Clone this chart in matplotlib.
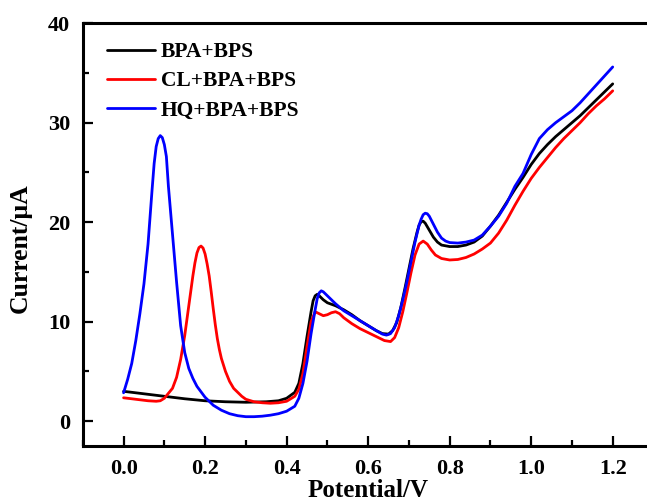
"""
Differential pulse voltammograms of BPA+BPS with and without CL / HQ
"""
import matplotlib
matplotlib.use('Agg')
import matplotlib.pyplot as plt
from matplotlib.ticker import MultipleLocator

# BPA+BPS
x_bpa = [0.00, 0.05, 0.10, 0.15, 0.20, 0.25, 0.30, 0.35, 0.38, 0.40, 0.42, 0.43,
         0.44, 0.45, 0.46, 0.465, 0.47, 0.475, 0.48, 0.49, 0.50, 0.52, 0.54, 0.56,
         0.58, 0.60, 0.62, 0.635, 0.65, 0.66, 0.67, 0.68, 0.69, 0.70, 0.71, 0.72,
         0.725, 0.73, 0.735, 0.74, 0.75, 0.76, 0.77, 0.78, 0.80, 0.82, 0.84, 0.86,
         0.88, 0.90, 0.92, 0.94, 0.96, 0.98, 1.00, 1.02, 1.04, 1.06, 1.08, 1.10,
         1.12, 1.14, 1.16, 1.18, 1.20]
y_bpa = [3.0, 2.75, 2.5, 2.25, 2.05, 1.95, 1.9, 1.95, 2.05, 2.3, 2.9, 3.8,
         5.8, 8.5, 11.0, 12.1, 12.6, 12.75, 12.6, 12.2, 11.9, 11.6, 11.2, 10.7,
         10.1, 9.6, 9.1, 8.8, 8.75, 9.1, 9.9, 11.4, 13.3, 15.3, 17.3, 19.0,
         19.7, 20.05, 20.1, 19.9, 19.2, 18.5, 18.0, 17.7, 17.55, 17.55, 17.7, 18.0,
         18.6, 19.6, 20.7, 22.0, 23.3, 24.5, 25.8, 26.9, 27.8, 28.6, 29.3, 30.0,
         30.7, 31.5, 32.3, 33.1, 33.9]

# CL+BPA+BPS
x_cl = [0.00, 0.02, 0.04, 0.06, 0.08, 0.09, 0.10, 0.11, 0.12, 0.13, 0.14, 0.15,
        0.16, 0.17, 0.175, 0.18, 0.185, 0.19, 0.195, 0.20, 0.205, 0.21, 0.215,
        0.22, 0.225, 0.23, 0.235, 0.24, 0.25, 0.26, 0.27, 0.28, 0.29, 0.30, 0.32,
        0.34, 0.36, 0.38, 0.40, 0.42, 0.43, 0.44, 0.45, 0.46, 0.47, 0.48, 0.49,
        0.50, 0.51, 0.52, 0.53, 0.54, 0.56, 0.58, 0.60, 0.62, 0.64, 0.655, 0.665,
        0.675, 0.685, 0.695, 0.705, 0.715, 0.725, 0.735, 0.745, 0.755, 0.765,
        0.78, 0.80, 0.82, 0.84, 0.86, 0.88, 0.90, 0.92, 0.94, 0.96, 0.98, 1.00,
        1.02, 1.04, 1.06, 1.08, 1.10, 1.12, 1.14, 1.16, 1.18, 1.20]
y_cl = [2.35, 2.25, 2.15, 2.05, 2.0, 2.05, 2.3, 2.8, 3.3, 4.4, 6.2, 8.6,
        11.6, 14.6, 15.9, 16.9, 17.45, 17.6, 17.4, 16.8, 15.8, 14.6, 13.0,
        11.3, 9.7, 8.3, 7.2, 6.3, 5.0, 4.0, 3.3, 2.9, 2.5, 2.2, 1.95,
        1.85, 1.8, 1.85, 2.0, 2.5, 3.2, 4.8, 7.5, 10.0, 11.0, 10.8, 10.6,
        10.7, 10.9, 11.0, 10.8, 10.4, 9.8, 9.3, 8.9, 8.5, 8.1, 8.0, 8.4,
        9.4, 11.0, 12.9, 14.9, 16.7, 17.8, 18.1, 17.8, 17.2, 16.7,
        16.35, 16.2, 16.25, 16.45, 16.8, 17.3, 17.9, 18.9, 20.2, 21.7, 23.1, 24.4,
        25.5, 26.5, 27.5, 28.4, 29.2, 30.0, 30.9, 31.7, 32.4, 33.2]

# HQ+BPA+BPS
x_hq = [0.00, 0.01, 0.02, 0.03, 0.04, 0.05, 0.06, 0.07, 0.075, 0.08, 0.085, 0.09,
        0.095, 0.10, 0.105, 0.11, 0.12, 0.13, 0.14, 0.15, 0.16, 0.17, 0.18, 0.20,
        0.22, 0.24, 0.26, 0.28, 0.30, 0.32, 0.34, 0.36, 0.38, 0.40, 0.42, 0.43,
        0.44, 0.45, 0.46, 0.47, 0.475, 0.48, 0.485, 0.49, 0.50, 0.52, 0.54, 0.56,
        0.58, 0.60, 0.62, 0.635, 0.645, 0.655, 0.665, 0.675, 0.685, 0.695, 0.705,
        0.715, 0.725, 0.73, 0.735, 0.74, 0.745, 0.75, 0.76, 0.77, 0.78, 0.79, 0.80,
        0.82, 0.84, 0.86, 0.88, 0.90, 0.92, 0.94, 0.96, 0.98, 1.00, 1.02, 1.04,
        1.06, 1.08, 1.10, 1.12, 1.14, 1.16, 1.18, 1.20]
y_hq = [2.85, 4.2, 5.8, 8.1, 10.8, 13.8, 17.8, 23.3, 25.9, 27.6, 28.4, 28.7,
        28.5, 27.8, 26.6, 23.6, 18.8, 14.0, 9.6, 6.9, 5.3, 4.3, 3.5, 2.4,
        1.6, 1.1, 0.75, 0.55, 0.45, 0.45, 0.5, 0.6, 0.75, 1.0, 1.5, 2.3,
        3.8, 6.0, 8.8, 11.2, 12.3, 12.9, 13.1, 13.0, 12.6, 11.8, 11.1, 10.6,
        10.1, 9.6, 9.1, 8.75, 8.65, 8.8, 9.4, 10.6, 12.2, 14.0, 16.0,
        18.0, 19.7, 20.3, 20.75, 20.9, 20.85, 20.6, 19.8, 19.0, 18.4, 18.1, 17.95,
        17.9, 18.0, 18.2, 18.7, 19.6, 20.6, 21.9, 23.6, 24.9, 26.8, 28.4, 29.3,
        30.0, 30.6, 31.2, 32.0, 32.9, 33.8, 34.7, 35.6]

labels = ['BPA+BPS', 'CL+BPA+BPS', 'HQ+BPA+BPS']
colors = ['black', 'red', 'blue']

plt.rcParams['font.family'] = ['Liberation Serif', 'DejaVu Serif']
plt.rcParams['font.weight'] = 'bold'

fig = plt.figure(figsize=(6.47, 5.04), dpi=100)
ax = fig.add_axes([0.128, 0.115, 0.882, 0.839])

for xs, ys, lab, c in zip([x_bpa, x_cl, x_hq], [y_bpa, y_cl, y_hq], labels, colors):
    ax.plot(xs, ys, color=c, lw=2.0, label=lab,
            solid_joinstyle='round', solid_capstyle='round')

ax.set_xlim(-0.1, 1.3)
ax.set_ylim(-2.5, 40)
ax.xaxis.set_minor_locator(MultipleLocator(0.1))
ax.yaxis.set_major_locator(MultipleLocator(10))
ax.yaxis.set_minor_locator(MultipleLocator(5))
ax.set_xticks([0.0, 0.2, 0.4, 0.6, 0.8, 1.0, 1.2])
ax.set_xticklabels(['0.0', '0.2', '0.4', '0.6', '0.8', '1.0', '1.2'])
ax.tick_params(which='both', direction='in', width=1.6, labelsize=16,
               top=False, right=False)
ax.tick_params(which='major', length=7, pad=9)
ax.tick_params(which='minor', length=4.5)
for s in ax.spines.values():
    s.set_linewidth(2.2)

ax.set_xlabel('Potential/V', fontsize=18, fontweight='bold', labelpad=0)
ax.set_ylabel('Current/\u03bcA', fontsize=18.5, fontweight='bold')
ax.yaxis.set_label_coords(-0.089, 0.468)

ax.legend(loc='upper left', frameon=False, fontsize=15.5, handlelength=2.2,
          handletextpad=0.3, labelspacing=0.42, borderaxespad=0, borderpad=0,
          bbox_to_anchor=(0.043, 0.955))

fig.savefig('out.png', dpi=100)
